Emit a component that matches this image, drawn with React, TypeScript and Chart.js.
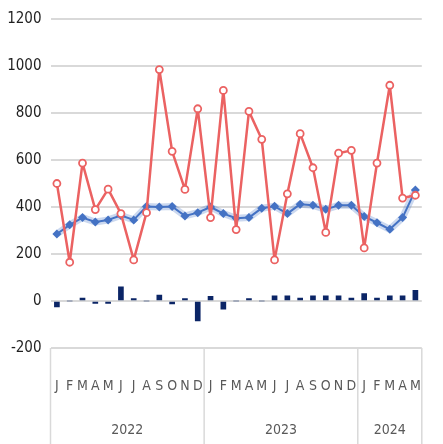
import React, { useEffect, useRef } from "react";
import { Chart, registerables } from "chart.js";

Chart.register(...registerables);

const months = [
  "J", "F", "M", "A", "M", "J", "J", "A", "S", "O", "N", "D",
  "J", "F", "M", "A", "M", "J", "J", "A", "S", "O", "N", "D",
  "J", "F", "M", "A", "M",
];
const yearLabels = ["2022", "2023", "2024"];
const yearSpans = [12, 12, 5];

const redSeries = [
  500, 165, 587, 389, 476, 372, 175, 376, 985, 637, 475, 818,
  355, 896, 304, 807, 688, 175, 456, 712, 567, 292, 629, 641,
  226, 587, 918, 438, 450,
];
const blueSeries = [
  285, 324, 355, 336, 345, 364, 345, 402, 400, 402, 362, 376,
  400, 372, 352, 355, 395, 403, 372, 412, 407, 390, 407, 407,
  360, 333, 305, 355, 472,
];
const barSeries = [
  -25, 0, 12, -10, -10, 60, 10, 0, 25, -12, 10, -85,
  20, -35, 0, 10, 0, 22, 22, 12, 22, 22, 22, 12,
  32, 12, 22, 22, 45,
];

const yTicks = { min: -200, max: 1200, step: 200 };

const FONT = '"DejaVu Sans Condensed", "Liberation Sans", sans-serif';

const yearBoxPlugin = {
  id: "yearBox",
  afterDraw(chart: any) {
    const { ctx, chartArea, scales } = chart;
    const x = scales.x;
    const bottom = chart.height;
    const bounds: number[] = [chartArea.left];
    let idx = 0;
    yearSpans.forEach((n, i) => {
      idx += n;
      if (i < yearSpans.length - 1) {
        bounds.push((x.getPixelForValue(idx - 1) + x.getPixelForValue(idx)) / 2);
      } else {
        bounds.push(chartArea.right);
      }
    });
    ctx.save();
    ctx.strokeStyle = "#D9D9D9";
    ctx.lineWidth = 1.5;
    bounds.forEach((b) => {
      ctx.beginPath();
      ctx.moveTo(b, chartArea.bottom);
      ctx.lineTo(b, bottom);
      ctx.stroke();
    });
    ctx.fillStyle = "#595959";
    ctx.font = `14px ${FONT}`;
    ctx.textAlign = "center";
    ctx.textBaseline = "middle";
    yearLabels.forEach((lab, i) => {
      ctx.fillText(lab, (bounds[i] + bounds[i + 1]) / 2, 430);
    });
    ctx.restore();
  },
};

export default function App() {
  const ref = useRef<HTMLCanvasElement | null>(null);
  useEffect(() => {
    if (!ref.current) return;
    const chart = new Chart(ref.current, {
      type: "line",
      data: {
        labels: months,
        datasets: [
          {
            type: "line",
            data: redSeries,
            borderColor: "#EB6262",
            borderWidth: 2.5,
            borderJoinStyle: "round",
            pointStyle: "circle",
            pointRadius: 3.5,
            pointBorderWidth: 1.8,
            pointBackgroundColor: "#FFFFFF",
            pointBorderColor: "#EB6262",
            tension: 0,
          },
          {
            type: "line",
            data: blueSeries,
            borderColor: "#4472C4",
            borderWidth: 2,
            borderJoinStyle: "round",
            pointStyle: "rectRot",
            pointRadius: 4.5,
            pointBorderWidth: 0,
            pointBackgroundColor: "#4472C4",
            pointBorderColor: "#4472C4",
            tension: 0,
          },
          {
            type: "line",
            data: blueSeries,
            borderColor: "rgba(68,114,196,0.28)",
            borderWidth: 7,
            borderJoinStyle: "round",
            pointRadius: 0,
            tension: 0,
          },
          {
            type: "bar",
            data: barSeries,
            backgroundColor: "#0B2566",
            barThickness: 5,
          } as any,
        ],
      },
      options: {
        animation: false,
        responsive: false,
        maintainAspectRatio: false,
        layout: { padding: { top: 19, right: 10, left: 0, bottom: 0 } },
        plugins: { legend: { display: false }, tooltip: { enabled: false } },
        scales: {
          x: {
            grid: { display: false },
            border: { display: false },
            ticks: {
              color: "#595959",
              font: { family: FONT, size: 14 },
              padding: 22,
              maxRotation: 0,
              autoSkip: false,
            },
            afterFit(scale: any) {
              scale.height = 96;
            },
          },
          y: {
            min: yTicks.min,
            max: yTicks.max,
            grid: { color: "#D9D9D9", lineWidth: 2, drawTicks: false },
            border: { display: false },
            ticks: {
              stepSize: yTicks.step,
              color: "#1F1F1F",
              font: { family: FONT, size: 15 },
              padding: 9,
              callback: (v: any) => String(v),
            },
            afterFit(scale: any) {
              scale.width = 50.5;
            },
          },
        },
      },
      plugins: [yearBoxPlugin],
    });
    return () => chart.destroy();
  }, []);
  return (
    <div style={{ position: "fixed", left: 0, top: 0, width: 443, height: 444, background: "#fff" }}>
      <canvas ref={ref} width={443} height={444} style={{ width: 443, height: 444 }} />
    </div>
  );
}
